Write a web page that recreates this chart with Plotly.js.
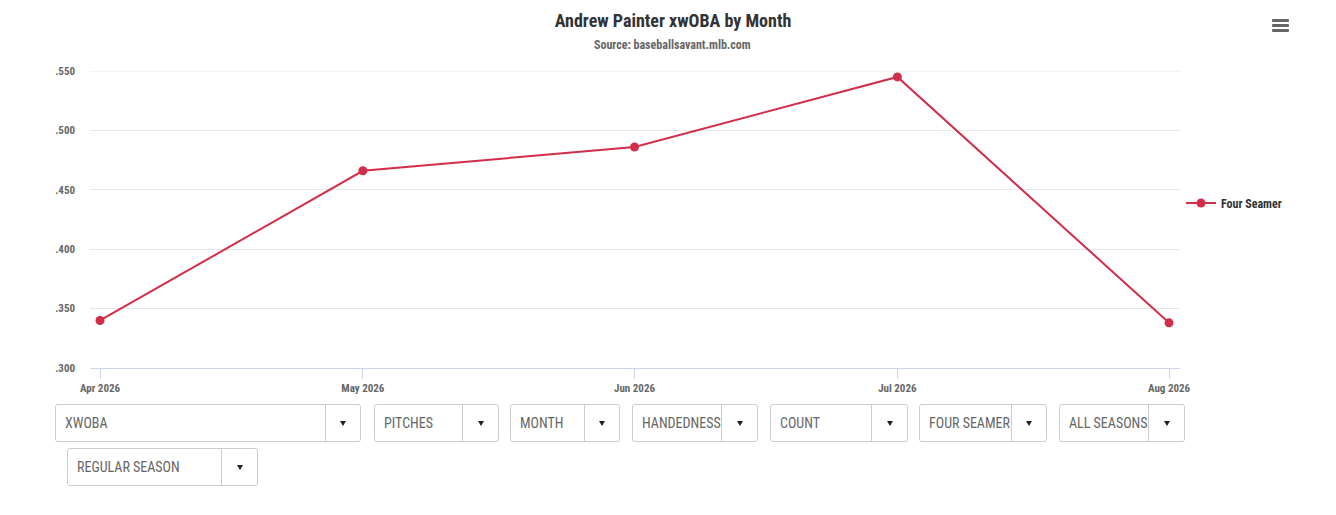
<!DOCTYPE html>
<html><head><meta charset="utf-8">
<script src="https://cdn.plot.ly/plotly-3.0.1.min.js"></script>
<style>
body{margin:0;background:#fff;width:1336px;height:515px;overflow:hidden;position:relative;font-family:"Roboto Condensed","Liberation Sans Narrow","DejaVu Sans Condensed",Roboto,sans-serif;}
#chart{position:absolute;left:0;top:0;width:1336px;height:400px;}
.dd{position:absolute;height:38px;box-sizing:border-box;border:1px solid #ccc;border-radius:3px;background:#fff;color:#666;font-size:14px;line-height:36px;}
.dd .lbl{position:absolute;left:9px;top:0;white-space:nowrap;overflow:hidden;}
.dd .sep{position:absolute;top:0;bottom:0;border-left:1px solid #ccc;}
.dd .arr{position:absolute;top:16px;width:0;height:0;border-left:3px solid transparent;border-right:3px solid transparent;border-top:5px solid #222;}
#menu{position:absolute;left:1272px;top:19px;width:17px;}
#menu div{height:3px;background:#666;margin-bottom:2px;border-radius:1px;}
</style>
</head><body>
<div id="chart"></div>
<div id="menu"><div></div><div></div><div></div></div>
<div id="dds"></div>
<script>
// ---- data ----
var months = ['2026-04-01','2026-05-01','2026-06-01','2026-07-01','2026-08-01'];
var monthLabels = ['Apr 2026','May 2026','Jun 2026','Jul 2026','Aug 2026'];
var xwoba = [0.340, 0.466, 0.486, 0.545, 0.338];
var seriesName = 'Four Seamer';
var yTickVals = [0.300, 0.350, 0.400, 0.450, 0.500, 0.550];
var yTickText = ['.300','.350','.400','.450','.500','.550'];
var chartTitle = 'Andrew Painter xwOBA by Month';
var chartSource = 'Source: baseballsavant.mlb.com';
var dropdownLabels = ['XWOBA','PITCHES','MONTH','HANDEDNESS','COUNT','FOUR SEAMER','ALL SEASONS','REGULAR SEASON'];

// ---- dropdown geometry (style only) ----
var ddBoxes = [
  [55,404,306,325],[374,404,125,462],[510,404,110,584],[632,404,126,721],
  [770,404,138,871],[919,404,128,1011],[1059,404,126,1148],[67,448,191,221]
];
var html='';
dropdownLabels.forEach(function(t,i){
  var b=ddBoxes[i], sepRel=b[3]-b[0];
  var arrowX = sepRel + (b[2]-sepRel)/2 - 4;
  html += '<div class="dd" style="left:'+b[0]+'px;top:'+b[1]+'px;width:'+b[2]+'px">'+
    '<span class="lbl" style="width:'+(sepRel-10)+'px">'+t+'</span>'+
    '<span class="sep" style="left:'+(sepRel-1)+'px"></span>'+
    '<span class="arr" style="left:'+arrowX+'px"></span></div>';
});
document.getElementById('dds').innerHTML = html;

var FONT = '"Roboto Condensed","Liberation Sans Narrow","DejaVu Sans Condensed",Roboto,sans-serif';
var col = '#d22d49';

var trace = {
  x: months, y: xwoba, name: seriesName, type:'scatter', mode:'lines+markers',
  line:{color:col, width:2}, marker:{color:col, size:9},
  showlegend:true
};

var yTop = yTickVals[yTickVals.length-1];
var layout = {
  width:1336, height:400,
  margin:{l:90, r:156, t:71, b:32},
  paper_bgcolor:'#fff', plot_bgcolor:'#fff',
  font:{family:FONT, color:'#666'},
  title:{text:chartTitle, xref:'container', x:673/1336, yref:'container', y:1-21/400, yanchor:'middle',
         font:{family:FONT, size:18, color:'#333', weight:'bold'}},
  annotations:[{text:chartSource, xref:'paper', yref:'paper', x:(673-90)/1090, y:(368-45)/297,
      xanchor:'center', yanchor:'middle', showarrow:false,
      font:{family:FONT, size:12, color:'#666', weight:'bold'}}],
  shapes:[{type:'line', xref:'paper', yref:'y', x0:0, x1:1, y0:yTop, y1:yTop,
      line:{color:'#e6e6e6', width:1}, layer:'below'}],
  xaxis:{type:'date', range:['2026-03-30 20:35','2026-08-02 06:07'],
    tickvals:months, ticktext:monthLabels, ticks:'outside', ticklen:10, tickcolor:'#ccd6eb', tickwidth:1,
    showline:true, linecolor:'#ccd6eb', linewidth:1, showgrid:false, zeroline:false,
    tickfont:{family:FONT, size:11, color:'#666', weight:'bold'}, fixedrange:true},
  yaxis:{range:[0.3,0.55], tickvals:yTickVals, ticktext:yTickText, showgrid:true, gridcolor:'#e6e6e6',
    zeroline:false, showline:false, ticks:'', ticklabelstandoff:14,
    tickfont:{family:FONT, size:11, color:'#666', weight:'bold'}, fixedrange:true},
  legend:{x:(1181-90)/1090, xanchor:'left', y:(368-203)/297, yanchor:'middle',
    font:{family:FONT, size:12, color:'#333', weight:'bold'}, bgcolor:'rgba(0,0,0,0)', itemwidth:30},
  hovermode:'closest'
};
Plotly.newPlot('chart',[trace],layout,{displayModeBar:false, staticPlot:false});
</script>
</body></html>
